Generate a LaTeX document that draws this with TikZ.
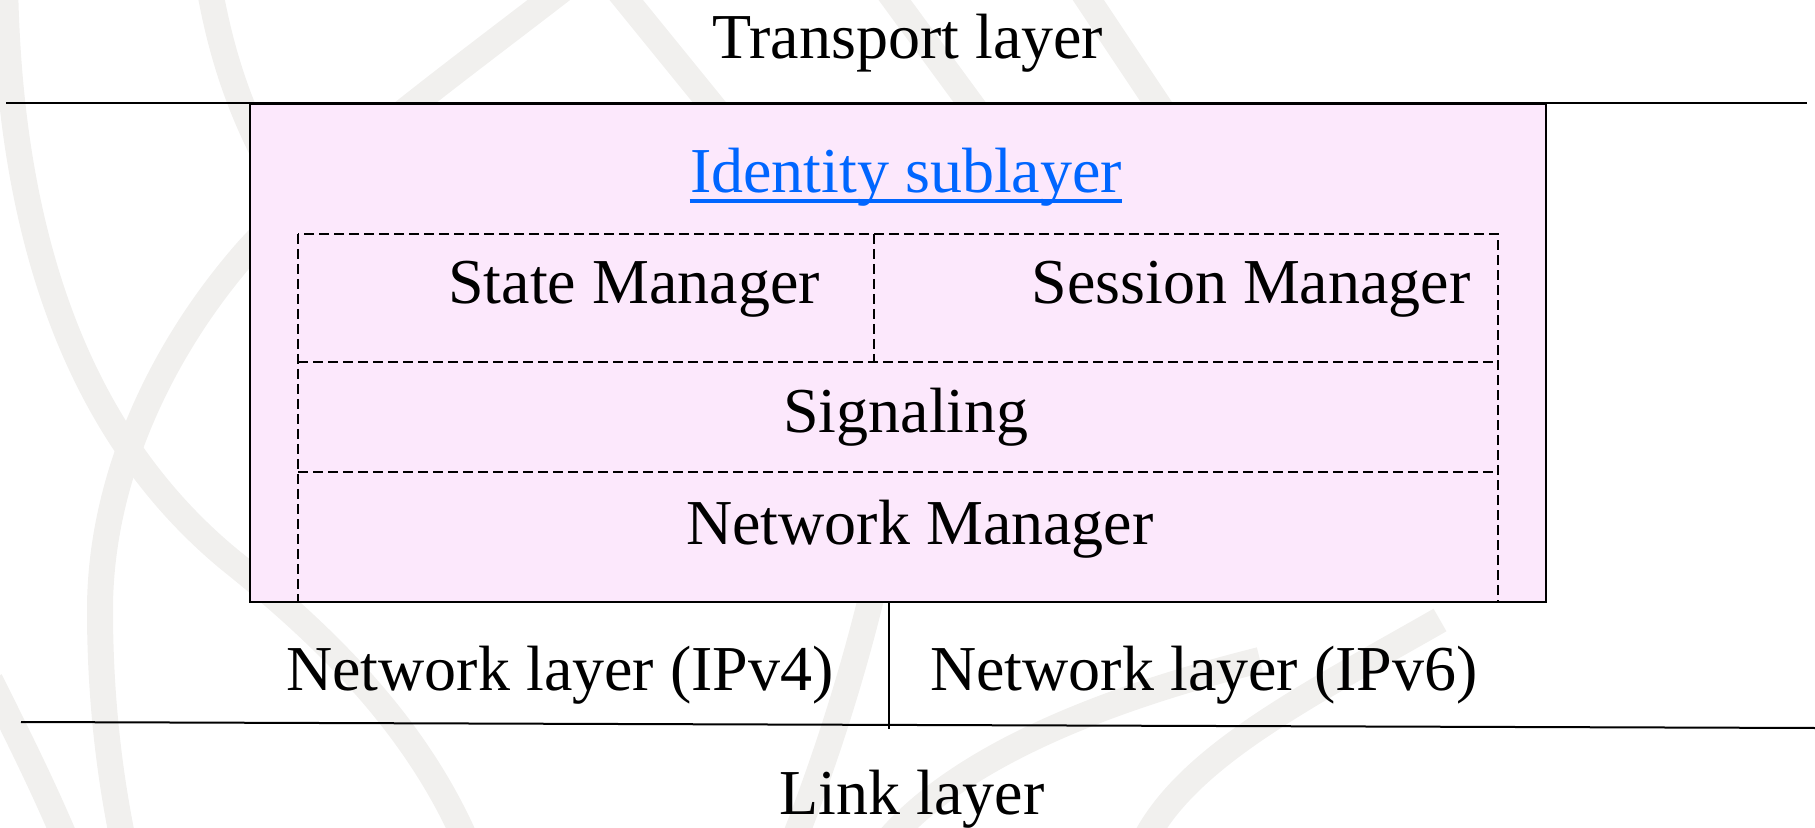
\documentclass[tikz,border=0pt]{standalone}
\usepackage{fontspec}
\setmainfont{Liberation Serif}
\definecolor{boxpink}{RGB}{252,232,252}
\definecolor{wmgrey}{RGB}{241,240,238}
\definecolor{idblue}{RGB}{0,102,255}
\tikzset{
  watermark/.style={draw=wmgrey, line width=13pt},
  layerline/.style={draw=black, line width=1pt},
  subbox/.style={draw=black, line width=0.7pt, dash pattern=on 5pt off 2.5pt},
  label/.style={font=\fontsize{32}{38}\selectfont, inner sep=0pt, anchor=base}
}
\begin{document}
\begin{tikzpicture}[x=0.5pt,y=-0.5pt]
\useasboundingbox (0,0) rectangle (1815,828);

% faint background emblem
\begin{scope}
  \clip (0,0) rectangle (1815,828);
  \draw[watermark] (5,-20) .. controls (8,200) and (60,420) .. (230,560)
                   .. controls (330,640) and (420,730) .. (470,850);
  \draw[watermark] (600,-40) .. controls (500,40) and (330,160) .. (248,250)
                   .. controls (160,350) and (100,480) .. (100,610)
                   .. controls (100,700) and (110,780) .. (125,850);
  \draw[watermark] (208,-20) .. controls (220,50) and (240,120) .. (290,200);
  \draw[watermark] (610,-20) -- (740,140);
  \draw[watermark] (880,-20) -- (990,130);
  \draw[watermark] (1075,-20) -- (1175,130);
  \draw[watermark] (880,560) .. controls (860,650) and (830,750) .. (790,850);
  \draw[watermark] (880,850) .. controls (950,760) and (1100,700) .. (1260,660);
  \draw[watermark] (1140,850) .. controls (1180,760) and (1300,700) .. (1440,620);
  \draw[watermark] (-10,680) .. controls (20,740) and (45,790) .. (70,850);
\end{scope}

% layer boundaries
\draw[layerline] (6,103) -- (1807,103);
\draw[layerline] (21,722) -- (1815,728);

% identity sublayer block
\draw[layerline, fill=boxpink] (250,104) rectangle (1546,602);
\draw[subbox] (298,234) rectangle (1498,602);
\draw[subbox] (874,234) -- (874,362);
\draw[subbox] (298,362) -- (1498,362);
\draw[subbox] (298,472) -- (1498,472);

% split of the network layer
\draw[layerline] (889,602) -- (889,729);

% labels
\node[label] (transport) at (908,59) {Transport layer};
\node[label, text=idblue] (identity) at (906,193) {Identity sublayer};
\draw[idblue, line width=2pt] ([yshift=-4pt]identity.base west) -- ([yshift=-4pt]identity.base east);
\node[label] (state) at (634,304) {State Manager};
\node[label] (session) at (1251,304) {Session Manager};
\node[label] (signaling) at (906,433) {Signaling};
\node[label] (netmgr) at (920,545) {Network Manager};
\node[label] (ipv4) at (560,690) {Network layer (IPv4)};
\node[label] (ipv6) at (1204,690) {Network layer (IPv6)};
\node[label] (link) at (912,814) {Link layer};
\end{tikzpicture}
\end{document}
